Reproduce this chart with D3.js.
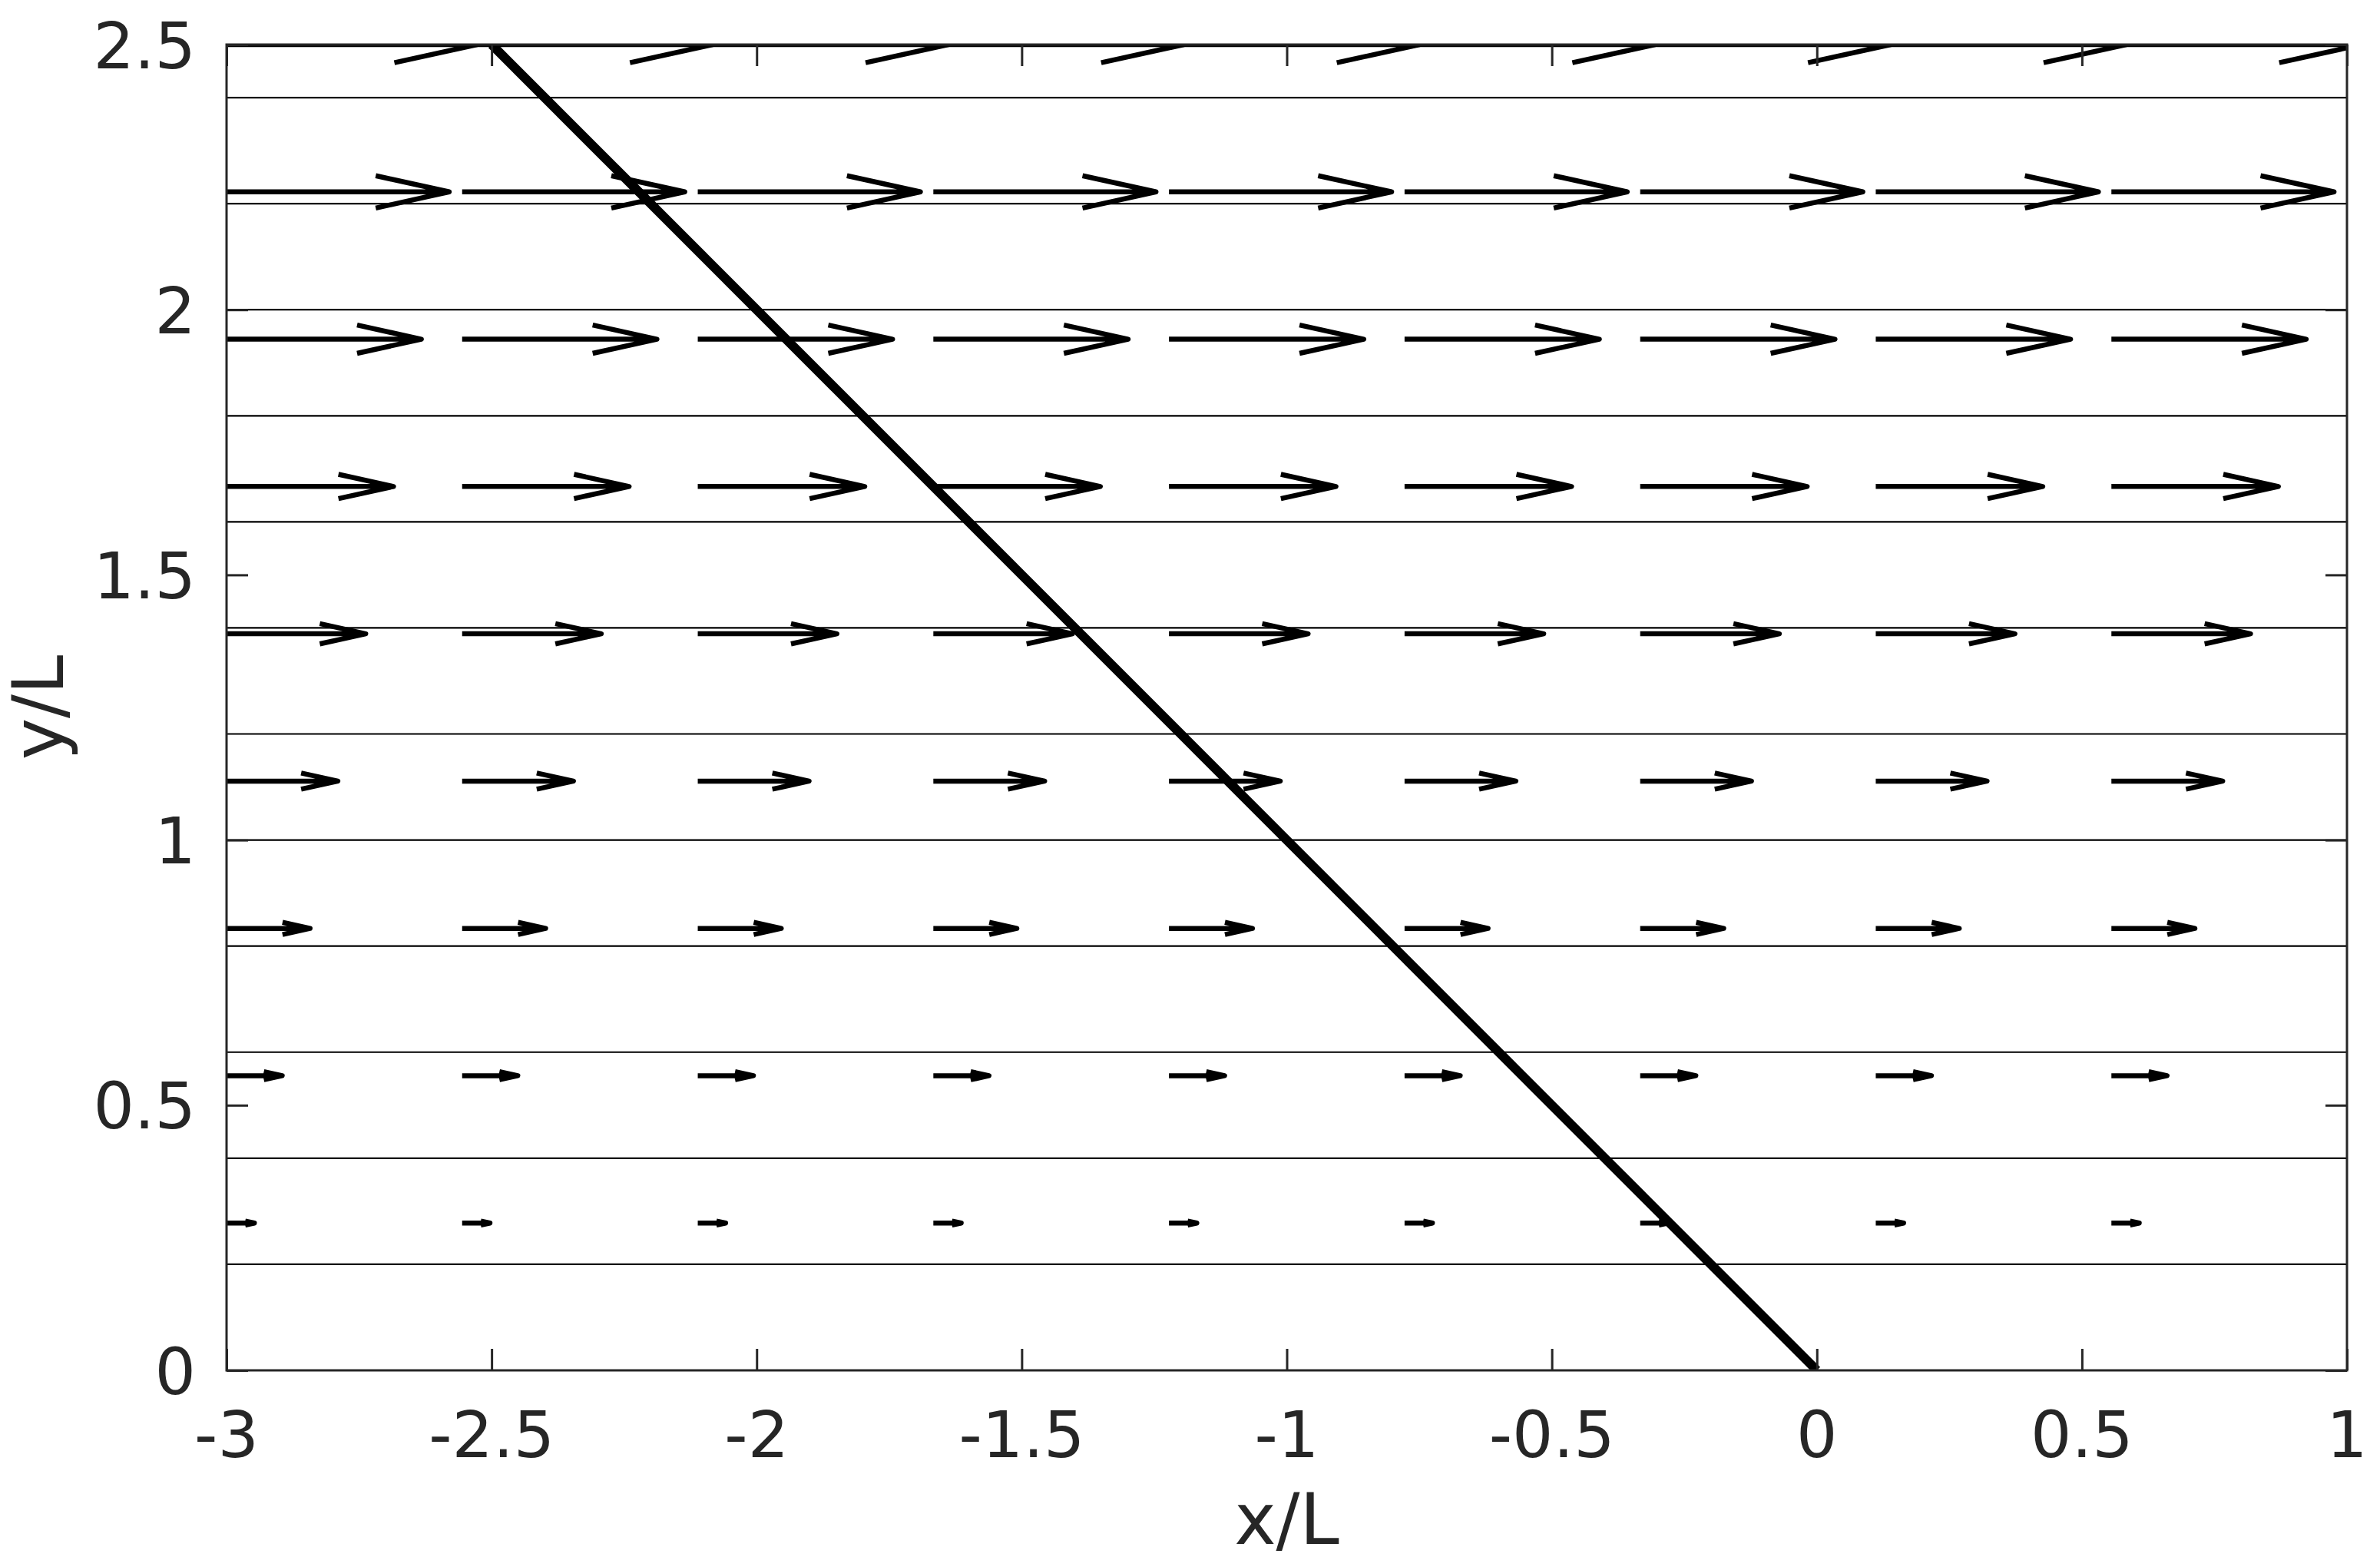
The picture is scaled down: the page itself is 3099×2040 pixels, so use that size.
<!DOCTYPE html>
<html>
<head>
<meta charset="utf-8">
<script src="https://cdn.jsdelivr.net/npm/d3@7"></script>
<style>
  body { margin: 0; background: #fff; }
  text { font-family: "DejaVu Sans", sans-serif; fill: #262626; }
</style>
</head>
<body>
<div id="plot"></div>
<script>
// tick values
var xTicks = [-3, -2.5, -2, -1.5, -1, -0.5, 0, 0.5, 1];
var yTicks = [0, 0.5, 1, 1.5, 2, 2.5];

// quiver grid (arrow tails) and the x-velocity on each row
var gridX = [-3, -2.5556, -2.1111, -1.6667, -1.2222, -0.7778, -0.3333, 0.1111, 0.5556];
var gridY = [0.2778, 0.5556, 0.8333, 1.1111, 1.3889, 1.6667, 1.9444, 2.2222, 2.5];
var rowU  = [0.2778, 0.5556, 0.8333, 1.1111, 1.3889, 1.6667, 1.9444, 2.2222, 2.5];

// streamlines y = const
var streamY = [0.2, 0.4, 0.6, 0.8, 1.0, 1.2, 1.4, 1.6, 1.8, 2.0, 2.2, 2.4];

// the thick diagonal
var diagX = [-2.5, 0];
var diagY = [2.5, 0];

var w = 3099, h = 2040;
var padL = 295, padR = 3056, padT = 58, padB = 1784;
var arrowScale = 0.189, headLen = 0.33, headWid = 0.22;

var svg = d3.select("#plot")
    .append("svg")
    .attr("width", w)
    .attr("height", h);

var xScale = d3.scaleLinear().domain([-3, 1]).range([padL, padR]);
var yScale = d3.scaleLinear().domain([0, 2.5]).range([padB, padT]);

svg.append("clipPath").attr("id", "clip")
    .append("rect")
    .attr("x", padL).attr("y", padT)
    .attr("width", padR - padL).attr("height", padB - padT);

var plot = svg.append("g").attr("clip-path", "url(#clip)");

// streamlines
plot.selectAll("line.stream")
    .data(streamY)
    .enter()
    .append("line")
    .attr("x1", xScale(-3)).attr("x2", xScale(1))
    .attr("y1", function (d) { return yScale(d); })
    .attr("y2", function (d) { return yScale(d); })
    .attr("stroke", "#000")
    .attr("stroke-width", 2.2);

// arrows
var arrows = [];
gridY.forEach(function (y, i) {
    gridX.forEach(function (x) {
        arrows.push({ x: x, y: y, u: rowU[i] });
    });
});

plot.selectAll("path.arrow")
    .data(arrows)
    .enter()
    .append("path")
    .attr("d", function (d) {
        var len = d.u * arrowScale;
        var x0 = xScale(d.x), y0 = yScale(d.y);
        var x1 = xScale(d.x + len);
        var hx = xScale(d.x + len - headLen * len);
        var hw = yScale(0) - yScale(headLen * headWid * len);
        return "M" + x0 + "," + y0 + "L" + x1 + "," + y0 +
            "M" + hx + "," + (y0 - hw) + "L" + x1 + "," + y0 + "L" + hx + "," + (y0 + hw);
    })
    .attr("fill", "none")
    .attr("stroke", "#000")
    .attr("stroke-width", 6.5)
    .attr("stroke-linejoin", "round");

// diagonal
var line = d3.line()
    .x(function (d) { return xScale(d[0]); })
    .y(function (d) { return yScale(d[1]); });

plot.append("path")
    .datum(d3.zip(diagX, diagY))
    .attr("d", line)
    .attr("fill", "none")
    .attr("stroke", "#000")
    .attr("stroke-width", 12);

// axes with inward ticks on all four sides
var tick = 28;
var xAxis = d3.axisBottom(xScale).tickValues(xTicks).tickSize(-tick).tickFormat("");
var xAxisTop = d3.axisTop(xScale).tickValues(xTicks).tickSize(-tick).tickFormat("");
var yAxis = d3.axisLeft(yScale).tickValues(yTicks).tickSize(-tick).tickFormat("");
var yAxisRight = d3.axisRight(yScale).tickValues(yTicks).tickSize(-tick).tickFormat("");

function styleAxis(g) {
    g.select(".domain").remove();
    g.selectAll(".tick line").attr("stroke", "#262626").attr("stroke-width", 3);
}

svg.append("g").attr("transform", "translate(0," + padB + ")").call(xAxis).call(styleAxis);
svg.append("g").attr("transform", "translate(0," + padT + ")").call(xAxisTop).call(styleAxis);
svg.append("g").attr("transform", "translate(" + padL + ",0)").call(yAxis).call(styleAxis);
svg.append("g").attr("transform", "translate(" + padR + ",0)").call(yAxisRight).call(styleAxis);

svg.append("rect")
    .attr("x", padL).attr("y", padT)
    .attr("width", padR - padL).attr("height", padB - padT)
    .attr("fill", "none")
    .attr("stroke", "#262626")
    .attr("stroke-width", 3);

// tick labels
svg.selectAll("text.xt")
    .data(xTicks)
    .enter()
    .append("text")
    .attr("x", function (d) { return xScale(d); })
    .attr("y", 1897)
    .attr("text-anchor", "middle")
    .attr("font-size", 84)
    .text(function (d) { return String(d); });

svg.selectAll("text.yt")
    .data(yTicks)
    .enter()
    .append("text")
    .attr("x", padL - 40)
    .attr("y", function (d) { return yScale(d) + 30.6; })
    .attr("text-anchor", "end")
    .attr("font-size", 84)
    .text(function (d) { return String(d); });

// axis labels
svg.append("text")
    .attr("x", (padL + padR) / 2)
    .attr("y", 2010)
    .attr("text-anchor", "middle")
    .attr("font-size", 92)
    .text("x/L");

svg.append("text")
    .attr("transform", "translate(82," + (padT + padB) / 2 + ") rotate(-90)")
    .attr("text-anchor", "middle")
    .attr("font-size", 92)
    .text("y/L");
</script>
</body>
</html>
